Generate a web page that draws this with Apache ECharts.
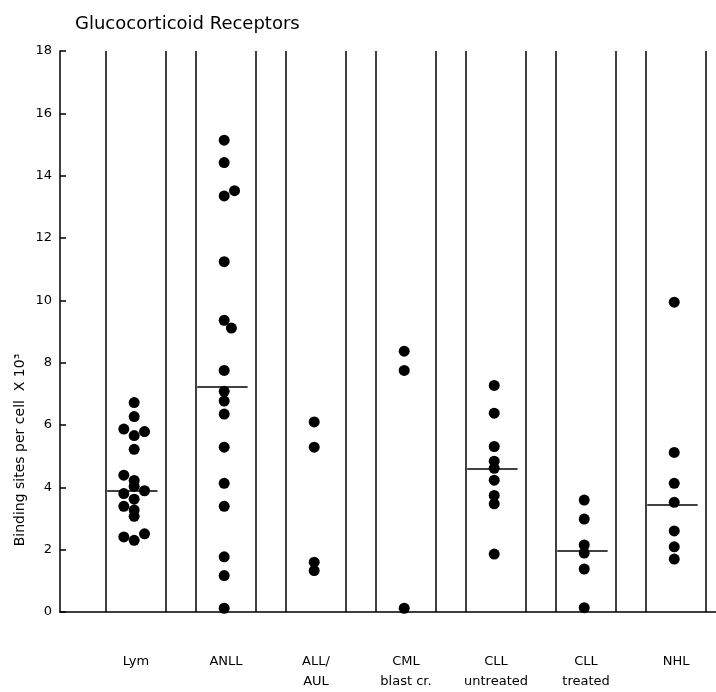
<!doctype html>
<html>
<head>
<meta charset="utf-8">
<style>
    html, body { margin: 0; padding: 0; background: #fff; }
    #chart-panel { width: 716px; height: 692px; }
</style>
<script src="https://cdn.jsdelivr.net/npm/echarts@6/dist/echarts.min.js"></script>
</head>
<body>
<div id="chart-panel"></div>
<script type="text/javascript">
// groups along the bottom
var groups = ['Lym', 'ANLL', 'ALL/\nAUL', 'CML\nblast cr.', 'CLL\nuntreated', 'CLL\ntreated', 'NHL'];

// binding sites per cell x 10^3, one array per group
var lymValues  = [6.72, 6.27, 5.87, 5.79, 5.66, 5.22, 4.39, 4.22, 4.03, 3.89, 3.80, 3.62, 3.39, 3.27, 3.07, 2.51, 2.41, 2.30];
var anllValues = [15.14, 14.42, 13.52, 13.35, 11.24, 9.36, 9.11, 7.75, 7.08, 6.77, 6.35, 5.29, 4.13, 3.39, 1.77, 1.17, 0.12];
var allValues  = [6.10, 5.29, 1.60, 1.33];
var cmlValues  = [8.37, 7.75, 0.12];
var clluValues = [7.27, 6.38, 5.31, 4.84, 4.61, 4.23, 3.74, 3.47, 1.86];
var clltValues = [3.59, 2.98, 2.15, 1.89, 1.38, 0.14];
var nhlValues  = [9.94, 5.12, 4.13, 3.52, 2.60, 2.09, 1.70];

// side-by-side column of each dot (-1 left, 0 middle, 1 right)
var lymCols  = [0, 0, -1, 1, 0, 0, -1, 0, 0, 1, -1, 0, -1, 0, 0, 1, -1, 0];
var anllCols = [0, 0, 1, 0, 0, 0, 0.7, 0, 0, 0, 0, 0, 0, 0, 0, 0, 0];

// group medians (null = no line drawn)
var medians = [3.88, 7.22, null, null, 4.60, 1.95, 3.43];

var yTicks = [0, 2, 4, 6, 8, 10, 12, 14, 16, 18];

var allGroups = [lymValues, anllValues, allValues, cmlValues, clluValues, clltValues, nhlValues];
var allCols = [lymCols, anllCols];

var colStep = 0.115;   // dot width in axis units
var boxHalf = 0.333;   // half width of each group's panel

var dots = [];
for (var g = 0; g < allGroups.length; g++) {
    var vals = allGroups[g];
    var cols = allCols[g] || [];
    for (var k = 0; k < vals.length; k++) {
        var c = cols[k] || 0;
        dots.push([g - 0.02 + c * colStep, vals[k]]);
    }
}

var lines = [];
for (var g = 0; g < groups.length; g++) {
    lines.push([{ coord: [g - boxHalf, 0] }, { coord: [g - boxHalf, 18] }]);
    lines.push([{ coord: [g + boxHalf, 0] }, { coord: [g + boxHalf, 18] }]);
    if (medians[g] !== null) {
        lines.push([{ coord: [g - 0.32, medians[g]] }, { coord: [g + 0.24, medians[g]] }]);
    }
}

var myChart = echarts.init(document.getElementById('chart-panel'));
var option = {
    animation: false,
    backgroundColor: '#fff',
    textStyle: { fontFamily: 'DejaVu Sans', color: '#000' },
    title: {
        text: 'Glucocorticoid Receptors',
        left: 70,
        top: 10,
        textStyle: { fontFamily: 'DejaVu Sans', fontSize: 18, fontWeight: 'normal', color: '#000' }
    },
    graphic: [{
        type: 'text',
        x: 20,
        y: 450,
        rotation: Math.PI / 2,
        style: {
            text: 'Binding sites per cell  X 10\u00b3',
            fontFamily: 'DejaVu Sans',
            fontSize: 14,
            fill: '#000',
            textAlign: 'center',
            textVerticalAlign: 'middle'
        }
    }],
    grid: { left: 60, right: 0, top: 51, bottom: 73 },
    xAxis: {
        type: 'value',
        min: -0.844,
        max: 6.444,
        splitLine: { show: false },
        axisTick: { show: false },
        axisLine: { show: true, onZero: false, lineStyle: { color: '#000', width: 1.5 } },
        axisLabel: {
            customValues: [0, 1, 2, 3, 4, 5, 6],
            formatter: function (v) { return groups[Math.round(v)]; },
            margin: 40,
            fontSize: 13,
            lineHeight: 20,
            color: '#000',
            verticalAlign: 'top'
        }
    },
    yAxis: {
        type: 'value',
        min: 0,
        max: 18,
        interval: 2,
        splitLine: { show: false },
        axisLine: { show: true, onZero: false, lineStyle: { color: '#000', width: 1.5 } },
        axisTick: { show: true, inside: true, length: 6, lineStyle: { color: '#000', width: 1.5 } },
        axisLabel: {
            formatter: function (v) { return yTicks.indexOf(v) >= 0 ? String(v) : ''; },
            fontSize: 13,
            margin: 8,
            color: '#000'
        }
    },
    series: [{
        type: 'scatter',
        data: dots,
        symbol: 'circle',
        symbolSize: 11,
        itemStyle: { color: '#000', opacity: 1 },
        silent: true,
        z: 3,
        markLine: {
            silent: true,
            symbol: ['none', 'none'],
            label: { show: false },
            lineStyle: { color: '#000', width: 1.5, type: 'solid', opacity: 1 },
            data: lines
        }
    }]
};
myChart.setOption(option);
</script>
</body>
</html>
